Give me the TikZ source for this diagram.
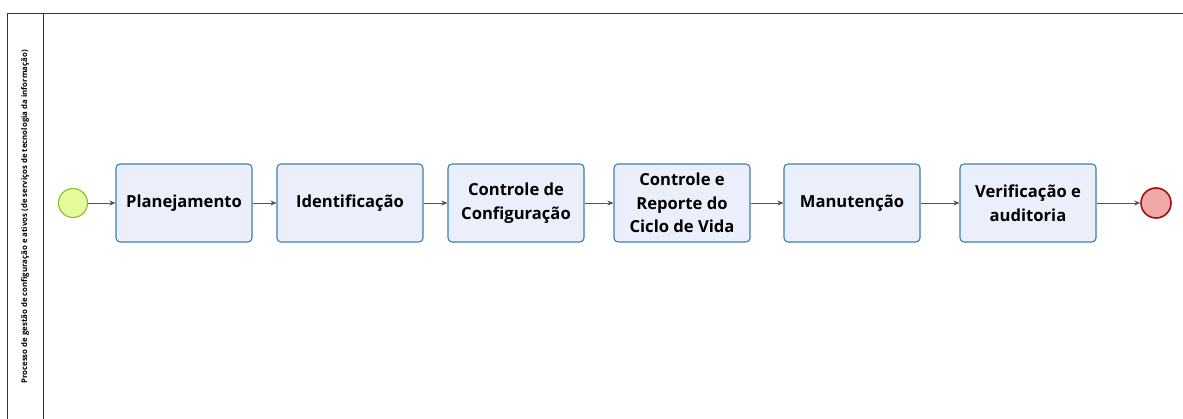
\documentclass[tikz,border=0pt]{standalone}
\usepackage{fontspec}
\setmainfont{Open Sans}
\usetikzlibrary{arrows.meta,positioning}

\definecolor{taskfill}{HTML}{EBEFFC}
\definecolor{taskdraw}{HTML}{3C80B0}
\definecolor{startfill}{HTML}{E6FC9C}
\definecolor{startdraw}{HTML}{86BE2E}
\definecolor{endfill}{HTML}{EFA9A9}
\definecolor{enddraw}{HTML}{A50E0E}
\definecolor{flowgray}{HTML}{555555}
\definecolor{poolgray}{HTML}{333333}

\tikzset{
	task/.style={draw=taskdraw, fill=taskfill, line width=1.1pt, rounded corners=4pt,
		minimum height=78pt, align=center, font=\bfseries\fontsize{16.6}{23.5}\selectfont},
	startev/.style={circle, draw=startdraw, fill=startfill, line width=1.1pt, minimum size=29pt, inner sep=0pt},
	endev/.style={circle, draw=enddraw, fill=endfill, line width=1.6pt, minimum size=30pt, inner sep=0pt},
	flow/.style={draw=flowgray, line width=0.8pt, -{Stealth[length=6pt,width=5pt,fill=black]}}
}

\begin{document}
\begin{tikzpicture}[x=1pt,y=-1pt]

	\useasboundingbox (0,0) rectangle (1183,419);

	%pool and lane
	\draw [poolgray, line width=0.8pt] (1183,13) -- (7,13) -- (7,419);
	\draw [poolgray, line width=0.8pt] (43,13) -- (43,419);
	\node [rotate=90, font=\bfseries\fontsize{7.8}{9}\selectfont] (lane) at (25,217)
		{Processo de gestão de configuração e ativos (de serviços de tecnologia da informação)};

	\def\ymid{203}

	%events
	\node [startev] (start) at (73,\ymid) {};
	\node [endev] (stop) at (1156,\ymid) {};

	%tasks, left to right
	\foreach \taskname/\position/\boxwidth/\tasklabel in {
		plan/184/136/Planejamento,
		ident/350/146/Identificação,
		conf/516/136/{Controle de\\Configuração},
		ciclo/682/136/{Controle e\\Reporte do\\Ciclo de Vida},
		manut/852/136/Manutenção,
		audit/1028/136/{Verificação e\\auditoria}}
	{
		\node [task, minimum width=\boxwidth pt] (\taskname) at (\position,\ymid) {\tasklabel};
	}

	%sequence flows
	\foreach \from/\to in {start/plan, plan/ident, ident/conf, conf/ciclo, ciclo/manut, manut/audit, audit/stop}
	{
		\draw [flow] (\from) -- (\to);
	}

\end{tikzpicture}
\end{document}
